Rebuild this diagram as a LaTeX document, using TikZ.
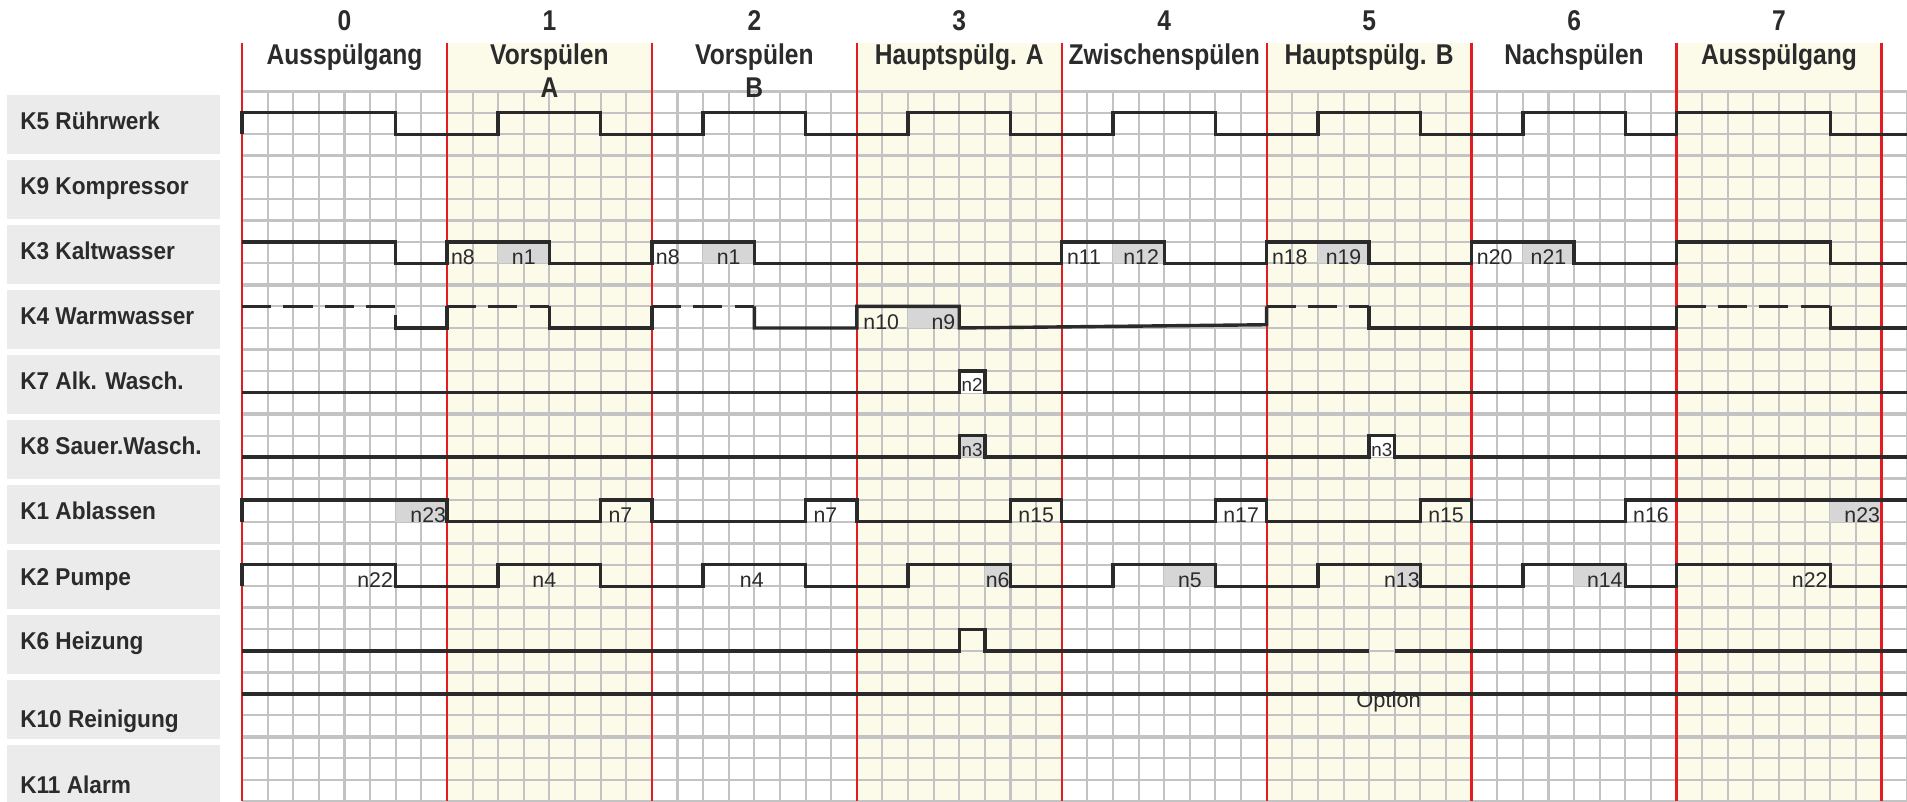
\documentclass[tikz,border=0pt]{standalone}
\usepackage{fontspec}
\setmainfont{Liberation Sans}
\newfontfamily\headfont[FakeStretch=0.86]{Liberation Sans}
\newfontfamily\lblfont[FakeStretch=0.93]{Liberation Sans}
\definecolor{gridc}{HTML}{C3C3C3}
\definecolor{sig}{HTML}{2A2A2A}
\definecolor{phred}{HTML}{E31B23}
\definecolor{ylw}{HTML}{FCFBEA}
\definecolor{lblbg}{HTML}{EBEBEB}
\definecolor{tagbg}{HTML}{D6D6D6}
\definecolor{txt}{HTML}{2B2B2B}
\begin{document}
\begin{tikzpicture}[x=1pt,y=-1pt,
  lblbox/.style={draw=none, fill=lblbg, minimum width=175.5pt, minimum height=48.5pt, inner sep=0pt, outer sep=0pt},
  lbltext/.style={font=\lblfont\fontsize{20}{23}\selectfont\bfseries, text=txt, inner sep=0pt},
  headtext/.style={font=\headfont\fontsize{23.5}{27}\selectfont\bfseries, text=txt, inner sep=0pt},
  tag/.style={font=\fontsize{17.5}{20}\selectfont, text=txt, inner sep=0pt},
  smalltag/.style={font=\fontsize{15.5}{18}\selectfont, text=txt, inner sep=0pt},
  gridline/.style={draw=gridc, line width=1.7pt},
  rowline/.style={draw=gridc, line width=2.8pt},
  phaseline/.style={draw=phred, line width=1.9pt},
  signal/.style={draw=sig, line width=2.8pt, line join=miter},
  dashsignal/.style={signal, dash pattern=on 24pt off 10pt},
  tagfill/.style={fill=tagbg},
  blankfill/.style={fill=white}]
\useasboundingbox (0,0) rectangle (1568,659);
\fill[white] (0,0) rectangle (1568,659);

% channel labels on the left
\foreach \i/\t/\dy in {0/K5 Rührwerk/28.5, 1/K9 Kompressor/28.5, 2/K3 Kaltwasser/28.5,
    3/K4 Warmwasser/28.5, 4/K7 Alk. Wasch./28.5, 5/K8 Sauer.Wasch./28.5,
    6/K1 Ablassen/28.5, 7/K2 Pumpe/29.5, 8/K6 Heizung/28.0, 9/K10 Reinigung/39.0,
    10/K11 Alarm/39.7} {
  \node[lblbox, anchor=north west] (box\i) at (5.5,{78+53.46*\i}) {};
  \node[lbltext, anchor=base west] (lbl\i) at (16.5,{78+53.46*\i+\dy}) {\t};
}

% time grid: 8 phases of 8 columns, 11 channels of 3 sub-rows
\begin{scope}[shift={(199pt,-75pt)}, x=21.0625pt, y=-17.697pt]
  \foreach \p in {1,3,5,7} \fill[ylw] ({8*\p},-2.26) rectangle ({8*\p+8},33);
  \foreach \c in {0,...,65} \draw[gridline] (\c,0) -- (\c,33);
  \foreach \r in {0,...,33} \draw[gridline] (0,\r) -- (65,\r);
  \foreach \r in {0,3,...,33} \draw[rowline] (0,\r) -- (65,\r);

  % shaded tag cells
  \fill[tagfill] (10,7) rectangle (12,8);
  \fill[tagfill] (18,7) rectangle (20,8);
  \fill[tagfill] (34,7) rectangle (36,8);
  \fill[tagfill] (42,7) rectangle (44,8);
  \fill[tagfill] (50,7) rectangle (52,8);
  \fill[tagfill] (26,10) rectangle (28,11);
  \fill[blankfill] (28,13) rectangle (29,14);
  \fill[tagfill] (28,16) rectangle (29,17);
  \fill[blankfill] (44,16) rectangle (45,17);
  \fill[tagfill] (6,19) rectangle (8,20);
  \fill[tagfill] (62,19) rectangle (64,20);
  \fill[tagfill] (29,22) rectangle (30,23);
  \fill[tagfill] (36,22) rectangle (38,23);
  \fill[tagfill] (45,22) rectangle (46,23);
  \fill[tagfill] (52,22) rectangle (54,23);

  % phase boundaries
  \foreach \p in {0,...,8} \draw[phaseline] ({8*\p},-2.26) -- ({8*\p},33);

  % phase headings
  \foreach \p/\t in {0/Ausspülgang, 1/Vorspülen, 2/Vorspülen, 3/Hauptspülg. A,
      4/Zwischenspülen, 5/Hauptspülg. B, 6/Nachspülen, 7/Ausspülgang} {
    \node[headtext, anchor=base] (num\p) at ({8*\p+4},-2.842) {\p};
    \node[headtext, anchor=base] (name\p) at ({8*\p+4},-1.22) {\t};
  }
  \node[headtext, anchor=base] (sub1) at (12,0.283) {A};
  \node[headtext, anchor=base] (sub2) at (20,0.283) {B};

  % K5 Rührwerk
  \draw[signal] (0,2) -- (0,1) -- (6,1) -- (6,2) -- (10,2) -- (10,1) -- (14,1) -- (14,2)
    -- (18,2) -- (18,1) -- (22,1) -- (22,2) -- (26,2) -- (26,1) -- (30,1) -- (30,2)
    -- (34,2) -- (34,1) -- (38,1) -- (38,2) -- (42,2) -- (42,1) -- (46,1) -- (46,2)
    -- (50,2) -- (50,1) -- (54,1) -- (54,2) -- (56,2) -- (56,1) -- (62,1) -- (62,2) -- (65,2);

  % K3 Kaltwasser
  \draw[signal] (0,7) -- (6,7) -- (6,8) -- (8,8) -- (8,7) -- (12,7) -- (12,8) -- (16,8)
    -- (16,7) -- (20,7) -- (20,8) -- (32,8) -- (32,7) -- (36,7) -- (36,8) -- (40,8)
    -- (40,7) -- (44,7) -- (44,8) -- (48,8) -- (48,7) -- (52,7) -- (52,8) -- (56,8)
    -- (56,7) -- (62,7) -- (62,8) -- (65,8);

  % K4 Warmwasser
  \draw[dashsignal] (0,10) -- (6,10);
  \draw[dashsignal] (8,10) -- (12,10);
  \draw[dashsignal] (16,10) -- (20,10);
  \draw[dashsignal] (40,10) -- (44,10);
  \draw[dashsignal] (56,10) -- (62,10);
  \draw[signal] (6,10.4) -- (6,11) -- (8,11) -- (8,10);
  \draw[signal] (12,10) -- (12,11) -- (16,11) -- (16,10);
  \draw[signal] (20,10) -- (20,11) -- (24,11) -- (24,10) -- (28,10) -- (28,11)
    -- (40,10.85) -- (40,10);
  \draw[signal] (44,10) -- (44,11) -- (56,11) -- (56,10);
  \draw[signal] (62,10) -- (62,11) -- (65,11);

  % K7 Alk. Wasch.
  \draw[signal] (0,14) -- (28,14) -- (28,13) -- (29,13) -- (29,14) -- (65,14);

  % K8 Sauer.Wasch.
  \draw[signal] (0,17) -- (28,17) -- (28,16) -- (29,16) -- (29,17) -- (44,17) -- (44,16)
    -- (45,16) -- (45,17) -- (65,17);

  % K1 Ablassen
  \draw[signal] (0,20) -- (0,19) -- (8,19) -- (8,20) -- (14,20) -- (14,19) -- (16,19)
    -- (16,20) -- (22,20) -- (22,19) -- (24,19) -- (24,20) -- (30,20) -- (30,19)
    -- (32,19) -- (32,20) -- (38,20) -- (38,19) -- (40,19) -- (40,20) -- (46,20)
    -- (46,19) -- (48,19) -- (48,20) -- (54,20) -- (54,19) -- (65,19);

  % K2 Pumpe
  \draw[signal] (0,23) -- (0,22) -- (6,22) -- (6,23) -- (10,23) -- (10,22) -- (14,22)
    -- (14,23) -- (18,23) -- (18,22) -- (22,22) -- (22,23) -- (26,23) -- (26,22)
    -- (30,22) -- (30,23) -- (34,23) -- (34,22) -- (38,22) -- (38,23) -- (42,23)
    -- (42,22) -- (46,22) -- (46,23) -- (50,23) -- (50,22) -- (54,22) -- (54,23)
    -- (56,23) -- (56,22) -- (62,22) -- (62,23) -- (65,23);

  % K6 Heizung
  \draw[signal] (0,26) -- (28,26) -- (28,25) -- (29,25) -- (29,26) -- (44,26);
  \draw[signal] (45,26) -- (65,26);

  % K10 Reinigung
  \draw[signal] (0,28) -- (65,28);
  \node[tag, font=\fontsize{18}{21}\selectfont, anchor=base] (opt) at (44.76,28.65) {Option};

  % step tags
  \node[tag, anchor=base west] (k3a) at (8.15,8.05) {n8};
  \node[tag, anchor=base] (k3b) at (11,8.05) {n1};
  \node[tag, anchor=base west] (k3c) at (16.15,8.05) {n8};
  \node[tag, anchor=base] (k3d) at (19,8.05) {n1};
  \node[tag, anchor=base west] (k3e) at (32.2,8.05) {n11};
  \node[tag, anchor=base] (k3f) at (35.1,8.05) {n12};
  \node[tag, anchor=base west] (k3g) at (40.2,8.05) {n18};
  \node[tag, anchor=base] (k3h) at (43,8.05) {n19};
  \node[tag, anchor=base west] (k3i) at (48.2,8.05) {n20};
  \node[tag, anchor=base] (k3j) at (51,8.05) {n21};

  \node[tag, anchor=base west] (k4a) at (24.25,11.08) {n10};
  \node[tag, anchor=base east] (k4b) at (27.85,11.08) {n9};

  \node[smalltag, anchor=base] (k7a) at (28.5,13.95) {n2};
  \node[smalltag, anchor=base] (k8a) at (28.5,16.95) {n3};
  \node[smalltag, anchor=base] (k8b) at (44.5,16.95) {n3};

  \node[tag, anchor=base east] (k1a) at (7.97,20.05) {n23};
  \node[tag, anchor=base west] (k1b) at (14.3,20.05) {n7};
  \node[tag, anchor=base west] (k1c) at (22.3,20.05) {n7};
  \node[tag, anchor=base west] (k1d) at (30.3,20.05) {n15};
  \node[tag, anchor=base west] (k1e) at (38.3,20.05) {n17};
  \node[tag, anchor=base west] (k1f) at (46.3,20.05) {n15};
  \node[tag, anchor=base west] (k1g) at (54.3,20.05) {n16};
  \node[tag, anchor=base east] (k1h) at (63.95,20.05) {n23};

  \node[tag, anchor=base east] (k2a) at (5.9,23.05) {n22};
  \node[tag, anchor=base] (k2b) at (11.8,23.05) {n4};
  \node[tag, anchor=base] (k2c) at (19.9,23.05) {n4};
  \node[tag, anchor=base] (k2d) at (29.5,23.05) {n6};
  \node[tag, anchor=base] (k2e) at (37,23.05) {n5};
  \node[tag, anchor=base east] (k2f) at (45.98,23.05) {n13};
  \node[tag, anchor=base east] (k2g) at (53.9,23.05) {n14};
  \node[tag, anchor=base east] (k2h) at (61.9,23.05) {n22};
\end{scope}
\end{tikzpicture}
\end{document}
